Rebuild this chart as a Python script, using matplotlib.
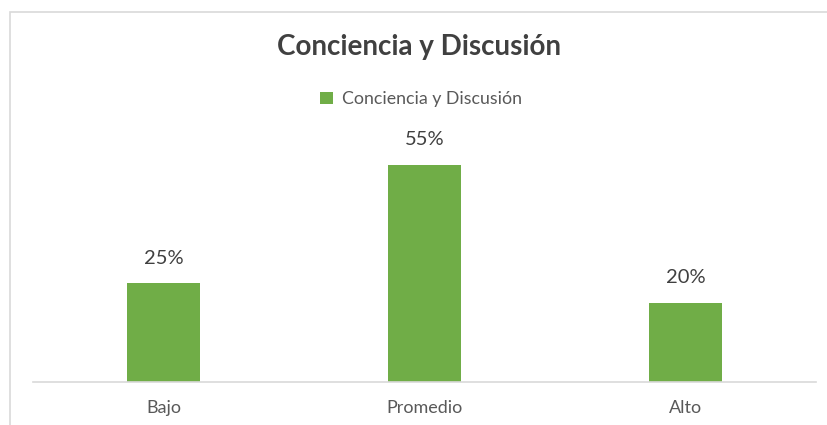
import matplotlib.pyplot as plt
from matplotlib.patches import Rectangle
import numpy as np

categories = ['Bajo', 'Promedio', 'Alto']
values = [25, 55, 20]
series_name = 'Conciencia y Discusión'
title = 'Conciencia y Discusión'

plt.rcParams['font.family'] = ['Lato', 'DejaVu Sans']

W, H = 827, 425
fig = plt.figure(figsize=(W / 100, H / 100), dpi=100)

# chart border (cut off at right and bottom like the screenshot)
fig.patches.append(Rectangle((10 / W, -0.1), 1.0, 1.1 - 12 / H, transform=fig.transFigure,
                             fill=False, edgecolor='#d9d9d9', linewidth=1.2, zorder=0))

ax = fig.add_axes([33 / W, 43 / H, 783 / W, 237 / H])
x = np.arange(len(categories))
bars = ax.bar(x, values, width=0.28, color='#70ad47', label=series_name, zorder=2)

ax.set_xlim(-0.5, 2.5)
ax.set_ylim(0, 60)
ax.set_yticks([])
ax.set_xticks(x)
ax.set_xticklabels(categories, fontsize=13, color='#595959')
ax.tick_params(axis='x', length=0, pad=13)
for s in ['top', 'right', 'left']:
    ax.spines[s].set_visible(False)
ax.spines['bottom'].set_color('#d9d9d9')
ax.spines['bottom'].set_linewidth(1.2)

for b, v in zip(bars, values):
    ax.annotate(f'{v}%', (b.get_x() + b.get_width() / 2, v), xytext=(0, 12),
                textcoords='offset points', ha='center', va='bottom',
                fontsize=14.5, color='#404040')

fig.text(419 / W, 1 - 47 / H, title, ha='center', va='center', fontsize=20,
         fontweight='bold', color='#404040')

fig.legend(loc='center', bbox_to_anchor=(421 / W, 1 - 99 / H), frameon=False,
           fontsize=12.8, labelcolor='#595959', handlelength=0.7, handleheight=0.7,
           handletextpad=0.5)

fig.savefig('out.png', dpi=100)
